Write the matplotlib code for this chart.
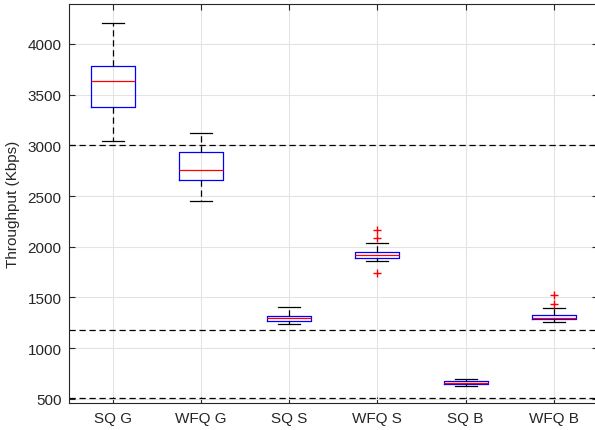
import matplotlib
matplotlib.use("Agg")
import matplotlib.pyplot as plt

plt.rcParams["font.family"] = ["Liberation Sans", "DejaVu Sans"]

labels = ["SQ G", "WFQ G", "SQ S", "WFQ S", "SQ B", "WFQ B"]
medians = [3632, 2759, 1298, 1923, 658, 1298]
q1 = [3382, 2655, 1266, 1887, 648, 1286]
q3 = [3783, 2936, 1322, 1949, 672, 1332]
whis_lo = [3039, 2456, 1243, 1864, 632, 1256]
whis_hi = [4207, 3126, 1407, 2034, 692, 1397]
outliers = [[], [], [], [2169, 2091, 1739], [], [1525, 1437]]
ref_lines = [3000, 1184, 510]

stats = []
for i, lab in enumerate(labels):
    stats.append({"label": lab, "med": medians[i], "q1": q1[i], "q3": q3[i],
                  "whislo": whis_lo[i], "whishi": whis_hi[i],
                  "fliers": outliers[i]})

fig = plt.figure(figsize=(5.95, 4.31), dpi=100)
ax = fig.add_axes([68.5 / 595, (431 - 404) / 431, (598 - 68.5) / 595, (404 - 5.3) / 431])

ax.bxp(stats, widths=0.5, showfliers=True,
       boxprops=dict(color="#0000ff", linewidth=0.9),
       medianprops=dict(color="#ff0000", linewidth=0.9),
       whiskerprops=dict(color="black", linestyle=(0, (5, 3)), linewidth=0.9),
       capprops=dict(color="black", linewidth=0.9),
       capwidths=0.25,
       flierprops=dict(marker="+", markeredgecolor="#ff0000", markersize=6,
                       markeredgewidth=1.0, linestyle="none"))

for y in ref_lines:
    ax.axhline(y, color="black", linestyle=(0, (5, 3)), linewidth=0.9)

ax.set_xlim(0.5, 6.5)
ax.set_ylim(460, 4390)
ax.set_yticks([500, 1000, 1500, 2000, 2500, 3000, 3500, 4000])
ax.set_ylabel("Throughput (Kbps)", fontsize=11, color="#262626")
ax.yaxis.set_label_coords(-0.092, 0.5)
ax.grid(True, color="#e3e3e3", linewidth=0.8)
ax.set_axisbelow(True)
ax.tick_params(direction="in", top=True, right=True, labelsize=11,
               colors="#262626", length=4)
ax.tick_params(axis="y", pad=5)
ax.tick_params(axis="x", pad=6)
for s in ax.spines.values():
    s.set_color("#262626")
    s.set_linewidth(0.8)

fig.savefig("out.png", dpi=100)
